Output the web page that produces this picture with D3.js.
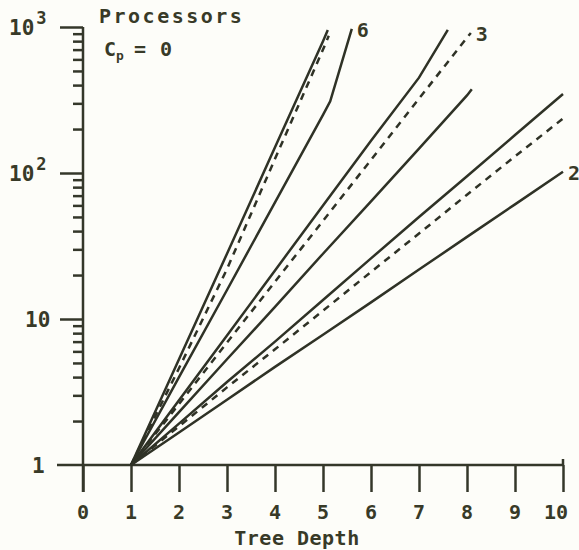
<!DOCTYPE html>
<html>
<head>
<meta charset="utf-8">
<script src="https://cdn.jsdelivr.net/npm/d3@7/dist/d3.min.js"></script>
<style>
  body { margin: 0; background: #fdfdf9; }
  svg { display: block; }
  .lbl { font-family: "DejaVu Sans Mono", monospace; font-weight: bold; fill: #383a28; }
  .axis line { stroke: #34372a; stroke-width: 2.5; }
  .axis path { display: none; }
</style>
</head>
<body>
<div id="chart"></div>
<script>
// tree depth vs. value (log y)
const xTicks = [0, 1, 2, 3, 4, 5, 6, 7, 8, 9, 10];
const yMajor = [1, 10, 100, 1000];
const yLabels = [["1", ""], ["10", ""], ["10", "2"], ["10", "3"]];

const solid6a = [[1, 1], [2, 5.3], [3, 28], [4, 150], [5, 800], [5.1, 955]];
const dashed6 = [[1, 1], [2, 4.6], [3, 22], [4, 125], [5, 700], [5.12, 870]];
const solid6b = [[1, 1], [2, 4], [3, 15.8], [4, 63], [5, 250], [5.15, 310], [5.6, 970]];
const solid3a = [[1, 1], [2, 2.78], [3, 7.7], [4, 21.5], [5, 60], [6, 166], [7, 450], [7.6, 955]];
const dashed3 = [[1, 1], [2, 2.62], [3, 6.9], [4, 18], [5, 47], [6, 123], [7, 323], [8, 846], [8.08, 910]];
const solid3b = [[1, 1], [2, 2.3], [3, 5.3], [4, 12.1], [5, 28], [6, 64], [7, 147], [8, 340], [8.1, 375]];
const solid2a = [[1, 1], [2, 1.92], [3, 3.7], [4, 7], [5, 13.5], [6, 26], [7, 50], [8, 95], [9, 182], [10, 348]];
const dashed2 = [[1, 1], [2, 1.84], [3, 3.4], [4, 6.2], [5, 11.4], [6, 21], [7, 38.5], [8, 71], [9, 130], [10, 236]];
const solid2b = [[1, 1], [2, 1.67], [3, 2.8], [4, 4.7], [5, 7.8], [6, 13], [7, 21.8], [8, 36.5], [9, 61], [10, 102]];

const series = [
    {pts: solid6a, dash: false}, {pts: dashed6, dash: true}, {pts: solid6b, dash: false, label: "6"},
    {pts: solid3a, dash: false}, {pts: dashed3, dash: true, label: "3"}, {pts: solid3b, dash: false},
    {pts: solid2a, dash: false}, {pts: dashed2, dash: true}, {pts: solid2b, dash: false, label: "2"}
];

let width = 579, height = 550;
let x = d3.scaleLinear().domain([0, 10]).range([83, 563]);
let y = d3.scaleLog().domain([1, 1000]).range([465, 27]);

let svg = d3.select("#chart").append("svg")
    .attr("width", width).attr("height", height);

svg.append("rect").attr("width", width).attr("height", height).attr("fill", "#fdfdf9");

// minor ticks on the log axis
let minor = [];
[1, 10, 100].forEach(function(d) {
    for (let k = 2; k <= 9; k++) minor.push(d * k);
});

svg.append("g").attr("class", "axis")
    .attr("transform", "translate(" + x(0) + ",0)")
    .call(d3.axisLeft(y).tickValues(minor).tickSize(10).tickFormat(""));

svg.append("g").attr("class", "axis")
    .attr("transform", "translate(" + x(0) + ",0)")
    .call(d3.axisLeft(y).tickValues(yMajor.slice(1)).tickSize(23).tickFormat(""));

svg.append("g").attr("class", "axis")
    .attr("transform", "translate(0," + y(1) + ")")
    .call(d3.axisBottom(x).tickValues(xTicks).tickSize(27).tickFormat(""));

// axis lines
svg.append("line").attr("x1", x(0)).attr("x2", x(0)).attr("y1", y(1000)).attr("y2", y(1) + 27)
    .attr("stroke", "#34372a").attr("stroke-width", 2.5);
svg.append("line").attr("x1", x(0) - 26).attr("x2", x(10)).attr("y1", y(1)).attr("y2", y(1))
    .attr("stroke", "#34372a").attr("stroke-width", 2.5);
// little upturn at the right end of the x axis
svg.append("line").attr("x1", x(10)).attr("x2", x(10)).attr("y1", y(1) - 6).attr("y2", y(1))
    .attr("stroke", "#34372a").attr("stroke-width", 2.5);

// x tick labels
svg.selectAll(".xl").data(xTicks).enter().append("text")
    .attr("class", "lbl")
    .attr("x", d => x(d) + (d == 10 ? -7 : 0))
    .attr("y", 519)
    .attr("text-anchor", "middle")
    .attr("font-size", 20)
    .text(d => d);

// y tick labels with superscripts
yLabels.forEach(function(l, i) {
    let t = svg.append("text").attr("class", "lbl")
        .attr("x", l[1] ? 9 : (i == 0 ? 32 : 25))
        .attr("y", y(yMajor[i]) + 8)
        .attr("font-size", 21)
        .text(l[0]);
    if (l[1]) {
        t.append("tspan").attr("dy", -11).attr("dx", 2).attr("font-size", 17).text(l[1]);
    }
});

svg.append("text").attr("class", "lbl")
    .attr("x", 297).attr("y", 545).attr("text-anchor", "middle")
    .attr("font-size", 20).attr("letter-spacing", 0.5).text("Tree Depth");

svg.append("text").attr("class", "lbl")
    .attr("x", 99).attr("y", 23).attr("font-size", 20).attr("letter-spacing", 2.5)
    .text("Processors");

let cp = svg.append("text").attr("class", "lbl")
    .attr("x", 104).attr("y", 56).attr("font-size", 20);
cp.append("tspan").text("C");
cp.append("tspan").attr("font-size", 13).attr("dy", 4).text("p");
cp.append("tspan").attr("dy", -4).attr("dx", 10).text("=");
cp.append("tspan").attr("dx", 14).text("0");

// curves
let line = d3.line().x(d => x(d[0])).y(d => y(d[1]));

svg.selectAll(".curve").data(series).enter().append("path")
    .attr("class", "curve")
    .attr("d", d => line(d.pts))
    .attr("fill", "none")
    .attr("stroke", "#2f3226")
    .attr("stroke-width", 2.5)
    .attr("stroke-dasharray", d => d.dash ? "7,6" : null);

series.filter(d => d.label).forEach(function(d) {
    let last = d.pts[d.pts.length - 1];
    svg.append("text").attr("class", "lbl")
        .attr("x", x(last[0]) + 5)
        .attr("y", y(last[1]) + 8)
        .attr("font-size", 20)
        .text(d.label);
});
</script>
</body>
</html>
